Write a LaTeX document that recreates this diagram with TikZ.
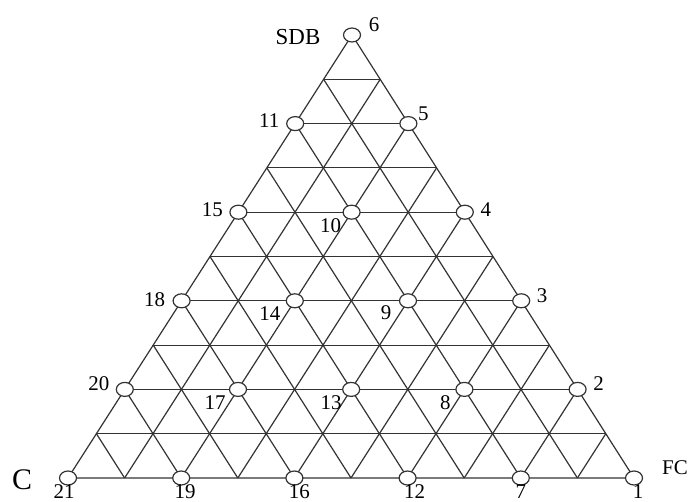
\documentclass[tikz,border=0pt]{standalone}
\usepackage{fontspec}
\setmainfont{Liberation Serif}
\usetikzlibrary{shapes.geometric}

\tikzset{
  grid line/.style={draw=black!80, line width=1.2bp},
  vertex/.style={ellipse, draw=black!80, fill=white, line width=1.2bp,
    minimum width=17bp, minimum height=14bp, inner sep=0pt},
  num/.style={font=\fontsize{21}{21}\selectfont, inner sep=0pt},
}

\begin{document}
\begin{tikzpicture}[x=1bp,y=-1bp]
\useasboundingbox (0,0) rectangle (693,502);

% lattice points, 10 steps per side
\foreach \v in {0,...,10}{
  \pgfmathtruncatemacro{\umax}{10-\v}
  \foreach \u in {0,...,\umax}
    \coordinate (g\u-\v) at ({68+56.6*\u+28.4*\v},{478-44.3*\v});
}

% draw grid
\foreach \k in {1,...,9}{
  \pgfmathtruncatemacro{\m}{10-\k}
  \draw[grid line] (g0-\k) -- (g\m-\k);  % horizontal
  \draw[grid line] (g\k-0) -- (g\k-\m);  % along left side
  \draw[grid line] (g\k-0) -- (g0-\k);   % along right side
}
\draw[grid line] (g0-0) -- (g10-0) -- (g0-10) -- cycle;

% design points
\node[vertex] (p1) at (g10-0) {};
\node[vertex] (p2) at (g8-2) {};
\node[vertex] (p3) at (g6-4) {};
\node[vertex] (p4) at (g4-6) {};
\node[vertex] (p5) at (g2-8) {};
\node[vertex] (p6) at (g0-10) {};
\node[vertex] (p7) at (g8-0) {};
\node[vertex] (p8) at (g6-2) {};
\node[vertex] (p9) at (g4-4) {};
\node[vertex] (p10) at (g2-6) {};
\node[vertex] (p11) at (g0-8) {};
\node[vertex] (p12) at (g6-0) {};
\node[vertex] (p13) at (g4-2) {};
\node[vertex] (p14) at (g2-4) {};
\node[vertex] (p15) at (g0-6) {};
\node[vertex] (p16) at (g4-0) {};
\node[vertex] (p17) at (g2-2) {};
\node[vertex] (p18) at (g0-4) {};
\node[vertex] (p19) at (g2-0) {};
\node[vertex] (p20) at (g0-2) {};
\node[vertex] (p21) at (g0-0) {};

% point numbers
\node[num] (t1) at ([shift={(4,13.5)}]p1) {1};
\node[num] (t2) at ([shift={(21,-6)}]p2) {2};
\node[num] (t3) at ([shift={(21,-5)}]p3) {3};
\node[num] (t4) at ([shift={(21,-3)}]p4) {4};
\node[num] (t5) at ([shift={(15,-10)}]p5) {5};
\node[num] (t6) at ([shift={(22,-10)}]p6) {6};
\node[num] (t7) at ([shift={(0,13.5)}]p7) {7};
\node[num] (t8) at ([shift={(-19,13)}]p8) {8};
\node[num] (t9) at ([shift={(-22,12)}]p9) {9};
\node[num] (t10) at ([shift={(-21,13)}]p10) {10};
\node[num] (t11) at ([shift={(-26,-3)}]p11) {11};
\node[num] (t12) at ([shift={(7,13.5)}]p12) {12};
\node[num] (t13) at ([shift={(-20,13)}]p13) {13};
\node[num] (t14) at ([shift={(-25,13)}]p14) {14};
\node[num] (t15) at ([shift={(-26,-3)}]p15) {15};
\node[num] (t16) at ([shift={(5,13.5)}]p16) {16};
\node[num] (t17) at ([shift={(-23,13)}]p17) {17};
\node[num] (t18) at ([shift={(-27,-1)}]p18) {18};
\node[num] (t19) at ([shift={(4,13.5)}]p19) {19};
\node[num] (t20) at ([shift={(-26,-6)}]p20) {20};
\node[num] (t21) at ([shift={(-4,13.5)}]p21) {21};

% components
\node[num, font=\fontsize{23}{23}\selectfont] (sdb) at ([shift={(-54,2)}]p6) {SDB};
\node[num, font=\fontsize{30}{30}\selectfont] (c) at ([shift={(-46,2)}]p21) {C};
\node[num] (fc) at ([shift={(41,-10)}]p1) {FC};

\end{tikzpicture}
\end{document}
